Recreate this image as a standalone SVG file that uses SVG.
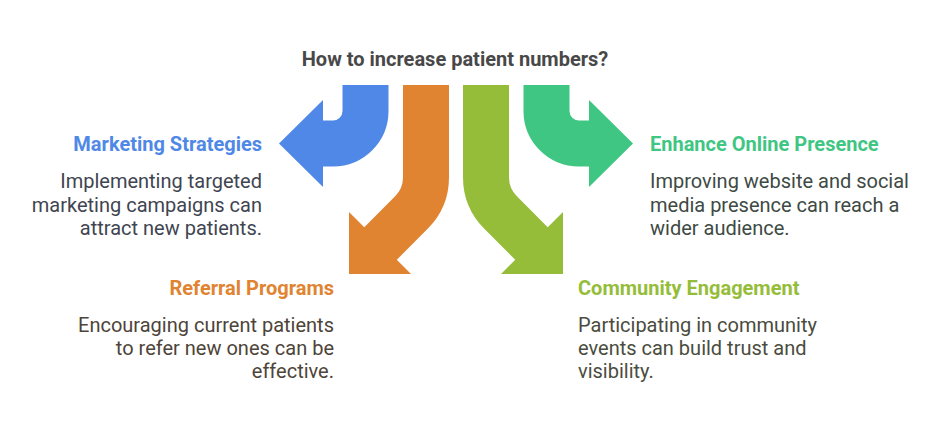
<svg xmlns="http://www.w3.org/2000/svg" width="948" height="432" viewBox="0 0 948 432">
<style>
.shaft{fill:none;stroke-width:46;stroke-linecap:butt;stroke-linejoin:miter}
.title{font-family:Roboto,"Liberation Sans",sans-serif;font-weight:bold;font-size:20px;fill:#484848}
.head{font-family:Roboto,"Liberation Sans",sans-serif;font-weight:bold;font-size:20px}
.body{font-family:Roboto,"Liberation Sans",sans-serif;font-size:20px}
.r{text-anchor:end}
</style>
<rect width="948" height="432" fill="#ffffff"/>
<g id="connectors">
  <g id="arrow-blue">
    <path class="shaft" stroke="#4F88E6" d="M365.5,85 V111 A32.5,32.5 0 0 1 333,143.5 H322"/>
    <polygon fill="#4F88E6" points="323,100 279,143.5 323,187"/>
  </g>
  <g id="arrow-orange">
    <path class="shaft" stroke="#E08432" d="M426,85 V177.3 A50,50 0 0 1 411.4,212.6 L379.8,244.2"/>
    <polygon fill="#E08432" points="349,212 349,274 411,274"/>
  </g>
  <g id="arrow-green">
    <path class="shaft" stroke="#95BD3A" d="M486,85 V177.3 A50,50 0 0 0 500.6,212.6 L532.2,244.2"/>
    <polygon fill="#95BD3A" points="563,212 563,274 501,274"/>
  </g>
  <g id="arrow-teal">
    <path class="shaft" stroke="#3FC683" d="M546.5,85 V111 A32.5,32.5 0 0 0 579,143.5 H590"/>
    <polygon fill="#3FC683" points="589,100 633,143.5 589,187"/>
  </g>
</g>
<g id="title"><text class="title" x="455" y="66" text-anchor="middle">How to increase patient numbers?</text></g>
<g id="node-marketing">
  <text class="head r" x="262" y="151" fill="#4F88E6">Marketing Strategies</text>
  <text class="body r" fill="#3F4551"><tspan x="262" y="188">Implementing targeted</tspan><tspan x="262" y="211.5">marketing campaigns can</tspan><tspan x="262" y="235">attract new patients.</tspan></text>
</g>
<g id="node-online">
  <text class="head" x="650" y="151" fill="#3FC683">Enhance Online Presence</text>
  <text class="body" fill="#3E4A44"><tspan x="650" y="188">Improving website and social</tspan><tspan x="650" y="211.5">media presence can reach a</tspan><tspan x="650" y="235">wider audience.</tspan></text>
</g>
<g id="node-referral">
  <text class="head r" x="334" y="295" fill="#E08432">Referral Programs</text>
  <text class="body r" fill="#4E4439"><tspan x="334" y="332">Encouraging current patients</tspan><tspan x="334" y="355">to refer new ones can be</tspan><tspan x="334" y="378">effective.</tspan></text>
</g>
<g id="node-community">
  <text class="head" x="578" y="295" fill="#95BD3A">Community Engagement</text>
  <text class="body" fill="#4A4C3E"><tspan x="578" y="332">Participating in community</tspan><tspan x="578" y="355">events can build trust and</tspan><tspan x="578" y="378">visibility.</tspan></text>
</g>
</svg>
